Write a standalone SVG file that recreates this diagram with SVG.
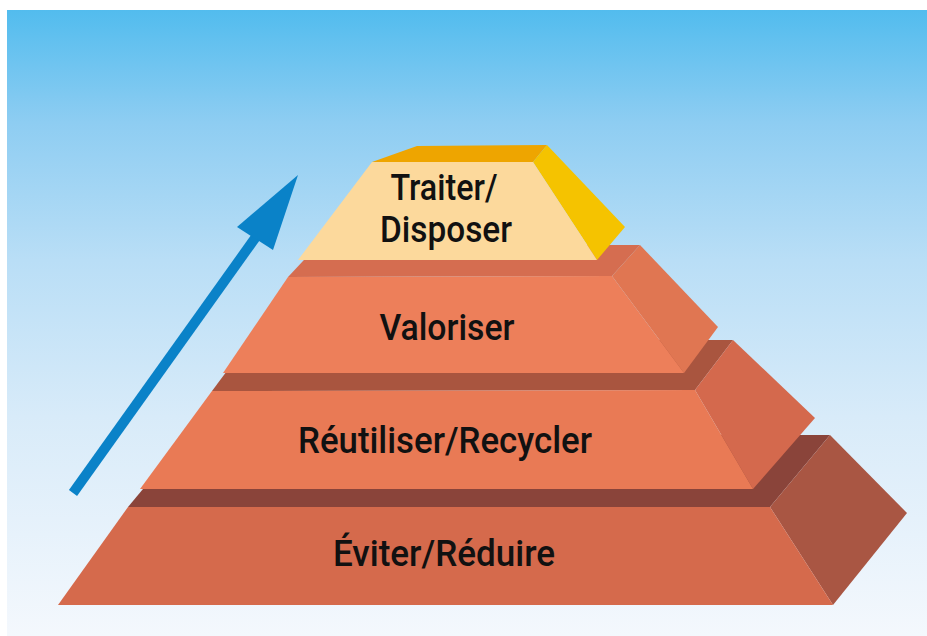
<svg xmlns="http://www.w3.org/2000/svg" width="927" height="636" viewBox="0 0 927 636">
<defs>
<linearGradient id="sky" x1="0" y1="0" x2="0" y2="1">
<stop offset="0" stop-color="#52bcee"/>
<stop offset="0.18" stop-color="#8ecdf2"/>
<stop offset="0.4" stop-color="#b9def6"/>
<stop offset="0.65" stop-color="#d8ebf9"/>
<stop offset="1" stop-color="#f4f8fd"/>
</linearGradient>
<style>
.lbl{font-family:Roboto,"Liberation Sans",sans-serif;font-size:37px;font-weight:500;fill:#111;text-anchor:middle}
</style>
</defs>
<rect x="0" y="0" width="927" height="636" fill="#ffffff"/>
<rect x="7" y="10" width="920" height="626" fill="url(#sky)"/>

<g id="eviter">
<polygon points="128,507 770,507 830,435 188,435" fill="#8a443a"/>
<polygon points="830,435 907,513 833,605 770,507" fill="#a95643"/>
<polygon points="128,507 770,507 833,605 58,605" fill="#d56a4c"/>
<text class="lbl" x="444" y="566" textLength="222" lengthAdjust="spacingAndGlyphs">Éviter/Réduire</text>
</g>

<g id="reutiliser">
<polygon points="212,391 695,390 733,340 250,340" fill="#a9553f"/>
<polygon points="733,340 815,418 753,489 695,390" fill="#d4694d"/>
<polygon points="212,391 695,390 753,489 140,489" fill="#e97a55"/>
<text class="lbl" x="445" y="453" textLength="294" lengthAdjust="spacingAndGlyphs">Réutiliser/Recycler</text>
</g>

<g id="valoriser">
<polygon points="288,277 612,276 640,245 318,245" fill="#d56d50"/>
<polygon points="640,245 718,327 684,373 612,276" fill="#e07652"/>
<polygon points="288,277 612,276 684,373 223,373" fill="#ed7f5a"/>
<text class="lbl" x="447" y="340" textLength="135" lengthAdjust="spacingAndGlyphs">Valoriser</text>
</g>

<g id="traiter">
<polygon points="372,162 417,146 547,145 533,162" fill="#eea500"/>
<polygon points="547,145 625,227 597,260 533,162" fill="#f5c300"/>
<polygon points="372,162 533,162 597,260 298,260" fill="#fcd99c"/>
<text class="lbl" x="444" y="200" textLength="107" lengthAdjust="spacingAndGlyphs">Traiter/</text>
<text class="lbl" x="446" y="242" textLength="132" lengthAdjust="spacingAndGlyphs">Disposer</text>
</g>

<g id="connectors">
<line x1="73" y1="493" x2="258" y2="234" stroke="#0a82c8" stroke-width="10"/>
<polygon points="298,175 273,250 237,227" fill="#0a82c8"/>
</g>
</svg>
